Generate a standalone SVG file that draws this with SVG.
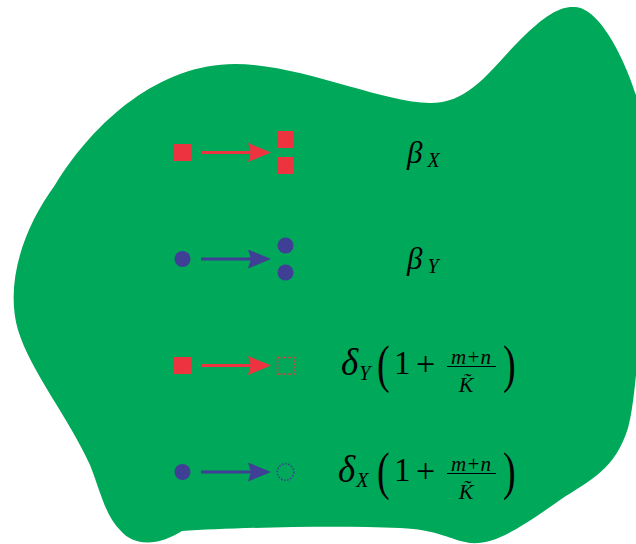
<svg xmlns="http://www.w3.org/2000/svg" width="636" height="544" viewBox="0 0 636 544">
<style>
.red{fill:#EE3340}
.blue{fill:#3F3F96}
text{font-family:'Liberation Serif','Times New Roman','DejaVu Serif',serif;fill:#000}
.i{font-style:italic}
.ar{stroke:#EE3340;stroke-width:3}
.ab{stroke:#3F3F96;stroke-width:3}
.dot{fill:none;stroke-width:1.6;stroke-dasharray:1.6 1.6}
</style>
<defs>
<marker id="hr" markerUnits="userSpaceOnUse" markerWidth="24" markerHeight="20" refX="10" refY="9.5" orient="auto" viewBox="0 0 24 20"><path d="M0,0 L23,9.5 L0,19 L3,9.5 Z" fill="#EE3340"/></marker>
<marker id="hb" markerUnits="userSpaceOnUse" markerWidth="24" markerHeight="20" refX="10" refY="9.5" orient="auto" viewBox="0 0 24 20"><path d="M0,0 L23,9.5 L0,19 L3,9.5 Z" fill="#3F3F96"/></marker>
</defs>
<path id="blob" fill="#00A859" d="M235,64 C300,64 380,102 430,103 C470,103 490,70 520,40 C545,15 560,6 575,7 C600,8 625,60 636,95 C650,140 642,380 628,428 C615,470 590,480 560,500 C520,528 495,545 470,543 C450,540 440,530 400,528 C330,525 230,528 182,531 C160,545 135,548 120,530 C105,515 100,490 90,465 C70,420 30,370 18,330 C5,285 22,230 55,185 C95,120 160,64 235,64 Z"/>
<g id="connectors">
<line class="ar" x1="201" y1="152.5" x2="258" y2="152.5" marker-end="url(#hr)"/>
<line class="ab" x1="201" y1="259" x2="258" y2="259" marker-end="url(#hb)"/>
<line class="ar" x1="201" y1="365.5" x2="258" y2="365.5" marker-end="url(#hr)"/>
<line class="ab" x1="201" y1="472" x2="258" y2="472" marker-end="url(#hb)"/>
</g>
<g id="row1">
<rect class="red" x="174" y="144" width="17" height="17"/>
<rect class="red" x="277" y="131" width="17" height="17"/>
<rect class="red" x="277" y="157" width="17" height="17"/>
<text class="i" x="407" y="163" font-size="31">β<tspan font-size="20" dy="4" dx="5">X</tspan></text>
</g>
<g id="row2">
<circle class="blue" cx="182.5" cy="259" r="8"/>
<circle class="blue" cx="285.5" cy="245.5" r="8"/>
<circle class="blue" cx="285.5" cy="272.5" r="8"/>
<text class="i" x="407" y="269" font-size="31">β<tspan font-size="20" dy="4" dx="5">Y</tspan></text>
</g>
<g id="row3">
<rect class="red" x="174" y="357" width="17" height="17"/>
<rect class="dot" x="277.5" y="357.5" width="16.5" height="16.5" stroke="#EE3340"/>
<text class="i" x="341" y="375" font-size="37">δ<tspan font-size="20" dy="5" dx="1">Y</tspan></text>
<text x="377" y="382" font-size="38" transform="translate(0,382) scale(1,1.4) translate(0,-382)">(</text>
<text x="394" y="374" font-size="33">1</text>
<text x="416" y="375" font-size="34">+</text>
<text class="i" x="471" y="364" font-size="21" text-anchor="middle">m+n</text>
<line x1="447" y1="366.5" x2="496" y2="366.5" stroke="#000" stroke-width="1.2"/>
<text class="i" x="466" y="392" font-size="22" text-anchor="middle">K̃</text>
<text x="503" y="382" font-size="38" transform="translate(0,382) scale(1,1.4) translate(0,-382)">)</text>
</g>
<g id="row4">
<circle class="blue" cx="182.5" cy="472" r="8"/>
<circle class="dot" cx="285.5" cy="472" r="8.3" stroke="#3F3F96"/>
<text class="i" x="338" y="482" font-size="37">δ<tspan font-size="20" dy="5" dx="1">X</tspan></text>
<text x="377" y="489" font-size="38" transform="translate(0,489) scale(1,1.4) translate(0,-489)">(</text>
<text x="394" y="481" font-size="33">1</text>
<text x="416" y="482" font-size="34">+</text>
<text class="i" x="471" y="471" font-size="21" text-anchor="middle">m+n</text>
<line x1="447" y1="473.5" x2="496" y2="473.5" stroke="#000" stroke-width="1.2"/>
<text class="i" x="466" y="499" font-size="22" text-anchor="middle">K̃</text>
<text x="503" y="489" font-size="38" transform="translate(0,489) scale(1,1.4) translate(0,-489)">)</text>
</g>
</svg>
